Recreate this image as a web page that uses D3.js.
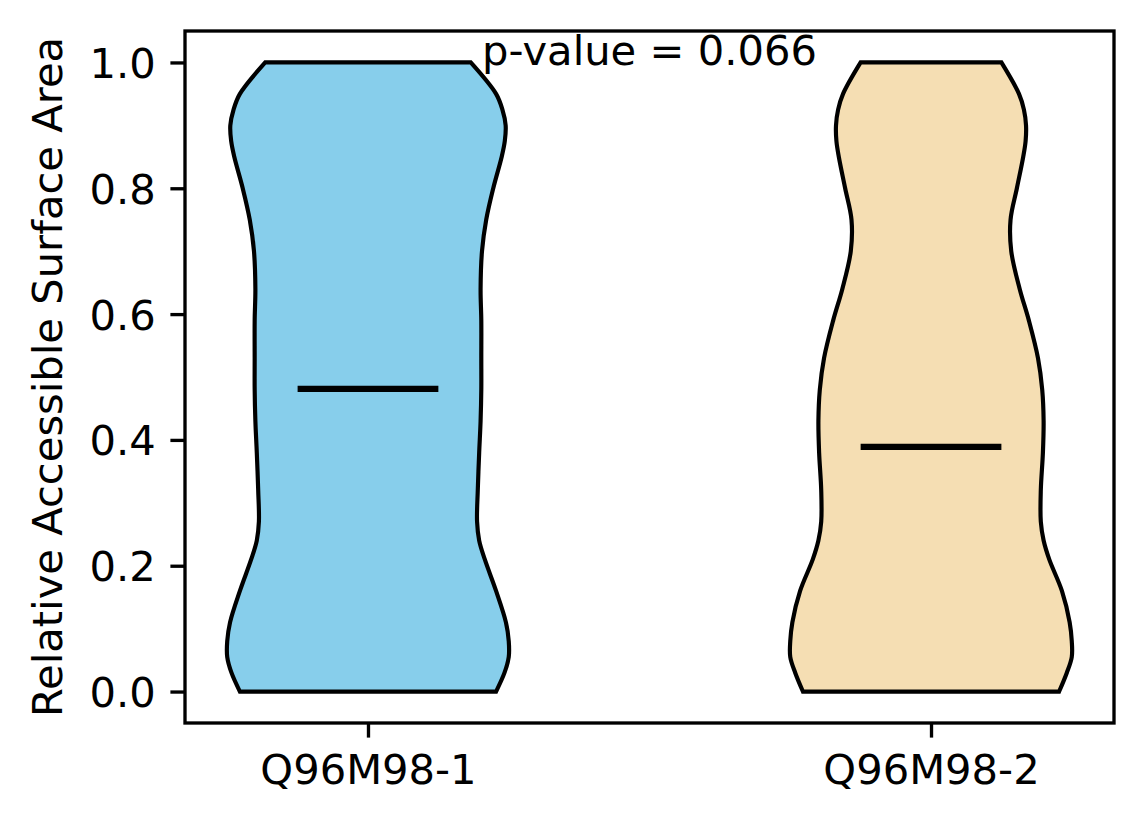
<!DOCTYPE html>
<html>
<head>
<meta charset="utf-8">
<script src="https://cdn.jsdelivr.net/npm/d3@7"></script>
<style>
  body { margin: 0; background: white; }
  text { font-family: "DejaVu Sans", sans-serif; }
</style>
</head>
<body>
<div id="main"></div>
<script>
// data
const groups = ["Q96M98-1", "Q96M98-2"];
const positions = [1, 2];
const fillColors = ["#87CEEB", "#F5DEB3"];
const medians = [0.481, 0.389];
// density profile (normalised, max = 1) sampled on a shared grid of values
const densityGrid = [0, 0.03, 0.055, 0.08, 0.11, 0.16, 0.21, 0.24, 0.27, 0.32, 0.38, 0.43,
                     0.48, 0.53, 0.59, 0.64, 0.70, 0.75, 0.80, 0.85, 0.875, 0.90, 0.925, 0.95, 1.0];
const densityA = [0.91, 0.97, 1.0, 1.0, 0.98, 0.91, 0.83, 0.79, 0.775, 0.78, 0.79, 0.80,
                  0.805, 0.805, 0.805, 0.80, 0.81, 0.84, 0.89, 0.95, 0.972, 0.978, 0.955, 0.91, 0.73];
const densityB = [0.91, 0.965, 1.0, 1.0, 0.985, 0.93, 0.84, 0.80, 0.78, 0.78, 0.795, 0.80,
                  0.79, 0.76, 0.695, 0.63, 0.57, 0.565, 0.61, 0.655, 0.672, 0.675, 0.66, 0.625, 0.50];
const densities = [densityA, densityB];
const yTicks = [0, 0.2, 0.4, 0.6, 0.8, 1.0];
const pValueLabel = "p-value = 0.066";
const yLabel = "Relative Accessible Surface Area";

const ctx = {
    width: 1144,
    height: 824,
    left: 185,
    right: 1114,
    top: 31,
    bottom: 723,
    fontSize: 41.67,
    violinWidth: 0.5
};

function createViz(){
    let svg = d3.select("#main").append("svg")
        .attr("width", ctx.width)
        .attr("height", ctx.height);

    let x = d3.scaleLinear().domain([0.675, 2.325]).range([ctx.left, ctx.right]);
    let y = d3.scaleLinear().domain([-0.05, 1.05]).range([ctx.bottom, ctx.top]);

    // violins
    let violinG = svg.append("g").attr("id", "violinG");
    positions.forEach((pos, i) => {
        let pts = densityGrid.map((v, k) => ({v: v, d: densities[i][k]}));
        let area = d3.area()
            .curve(d3.curveCatmullRom.alpha(0.5))
            .y(d => y(d.v))
            .x0(d => x(pos - ctx.violinWidth / 2 * d.d))
            .x1(d => x(pos + ctx.violinWidth / 2 * d.d));
        violinG.append("path")
            .attr("d", area(pts))
            .attr("fill", fillColors[i])
            .attr("stroke", "black")
            .attr("stroke-width", 4.17)
            .attr("stroke-linejoin", "miter");
        // median
        violinG.append("line")
            .attr("x1", x(pos - ctx.violinWidth / 4))
            .attr("x2", x(pos + ctx.violinWidth / 4))
            .attr("y1", y(medians[i]))
            .attr("y2", y(medians[i]))
            .attr("stroke", "black")
            .attr("stroke-width", 6.25);
    });

    // axes
    let yAxis = d3.axisLeft(y).tickValues(yTicks).tickFormat(d3.format(".1f"))
        .tickSize(14.6).tickPadding(14.6);
    let yG = svg.append("g").attr("transform", "translate(" + ctx.left + ",0)").call(yAxis);
    let xAxis = d3.axisBottom(x).tickValues(positions).tickFormat((d, i) => groups[i])
        .tickSize(14.6).tickPadding(14.6);
    let xG = svg.append("g").attr("transform", "translate(0," + ctx.bottom + ")").call(xAxis);

    [yG, xG].forEach(g => {
        g.select(".domain").remove();
        g.selectAll(".tick line").attr("stroke", "black").attr("stroke-width", 3.33);
        g.selectAll(".tick text")
            .attr("fill", "black")
            .attr("font-size", ctx.fontSize + "px")
            .attr("font-family", "DejaVu Sans");
    });
    yG.selectAll(".tick text").attr("dy", "0.36em");
    xG.selectAll(".tick text").attr("dy", "0.76em");

    // frame
    svg.append("rect")
        .attr("x", ctx.left)
        .attr("y", ctx.top)
        .attr("width", ctx.right - ctx.left)
        .attr("height", ctx.bottom - ctx.top)
        .attr("fill", "none")
        .attr("stroke", "black")
        .attr("stroke-width", 3.33);

    // y label
    svg.append("text")
        .attr("transform", "rotate(-90)")
        .attr("x", -(ctx.top + ctx.bottom) / 2)
        .attr("y", 62)
        .attr("text-anchor", "middle")
        .attr("font-size", ctx.fontSize + "px")
        .attr("fill", "black")
        .text(yLabel);

    // p-value annotation
    svg.append("text")
        .attr("x", x(1.5))
        .attr("y", y(1.0))
        .attr("dy", "3")
        .attr("text-anchor", "middle")
        .attr("font-size", ctx.fontSize + "px")
        .attr("fill", "black")
        .text(pValueLabel);
}

createViz();
</script>
</body>
</html>
